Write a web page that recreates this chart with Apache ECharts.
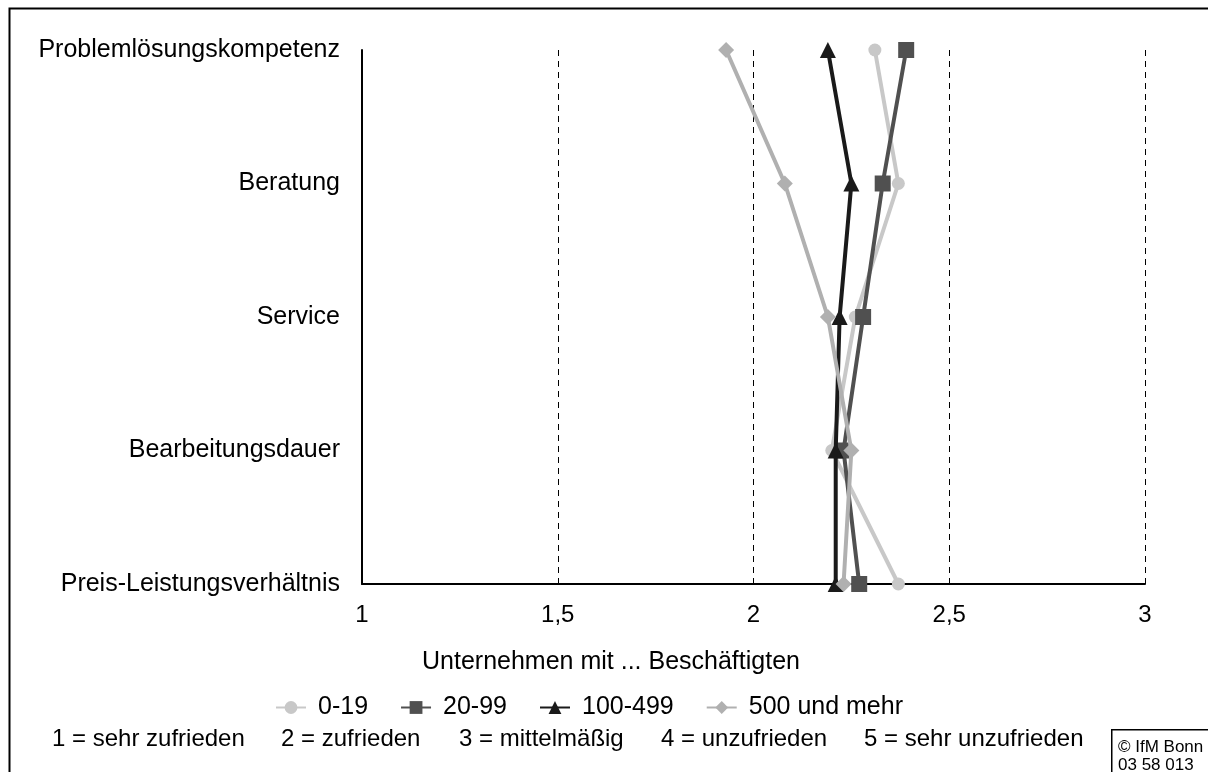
<!DOCTYPE html>
<html>
<head>
<meta charset="utf-8">
<script src="https://cdn.jsdelivr.net/npm/echarts@6/dist/echarts.min.js"></script>
<style>
  html, body { margin: 0; padding: 0; background: #fff; }
  #chart { width: 1208px; height: 772px; }
</style>
</head>
<body>
<div id="chart"></div>
<script>
// Kategorien (von oben nach unten)
const categories = ['Problemlösungskompetenz', 'Beratung', 'Service', 'Bearbeitungsdauer', 'Preis-Leistungsverhältnis'];
const seriesNames = ['0-19', '20-99', '100-499', '500 und mehr'];
const v0_19 = [2.31, 2.37, 2.26, 2.20, 2.37];
const v20_99 = [2.39, 2.33, 2.28, 2.23, 2.27];
const v100_499 = [2.19, 2.25, 2.22, 2.21, 2.21];
const v500 = [1.93, 2.08, 2.19, 2.25, 2.23];
const scaleNotes = ['1 = sehr zufrieden', '2 = zufrieden', '3 = mittelmäßig', '4 = unzufrieden', '5 = sehr unzufrieden'];

const font = 'Liberation Sans, Arial, sans-serif';
const styles = [
  { color: '#c8c8c8', symbol: 'circle', size: 13 },
  { color: '#505050', symbol: 'rect', size: 16 },
  { color: '#1a1a1a', symbol: 'triangle', size: 16 },
  { color: '#b0b0b0', symbol: 'diamond', size: 16 }
];
const allValues = [v0_19, v20_99, v100_499, v500];
// x-Startpositionen der Skalenerklärung
const notePos = [52, 281, 459, 661, 864];

const chart = echarts.init(document.getElementById('chart'));

const option = {
  animation: false,
  backgroundColor: '#fff',
  textStyle: { fontFamily: font },
  grid: { left: 362, right: 63, top: 50, bottom: 188, containLabel: false },
  xAxis: {
    type: 'value',
    min: 1, max: 3, interval: 0.5,
    axisLine: { show: true, lineStyle: { color: '#000', width: 2 } },
    axisTick: { show: false },
    splitLine: { show: true, lineStyle: { color: '#000', type: [6, 5], width: 1 } },
    axisLabel: {
      color: '#000', fontSize: 24, fontFamily: font, margin: 19,
      formatter: v => String(v).replace('.', ',')
    }
  },
  yAxis: {
    type: 'category',
    inverse: true,
    boundaryGap: false,
    data: categories,
    axisLine: { show: true, lineStyle: { color: '#000', width: 2 } },
    axisTick: { show: false },
    splitLine: { show: false },
    axisLabel: { color: '#000', fontSize: 25, fontFamily: font, margin: 22, padding: [8, 0, 0, 0] }
  },
  legend: {
    data: seriesNames,
    left: 270, top: 690,
    itemWidth: 30, itemHeight: 16,
    itemGap: 32,
    textStyle: { color: '#000', fontSize: 25, fontFamily: font, padding: [0, 0, 0, 7] }
  },
  series: allValues.map((vals, i) => ({
    name: seriesNames[i],
    type: 'line',
    data: vals,
    symbol: styles[i].symbol,
    symbolSize: styles[i].size,
    itemStyle: { color: styles[i].color },
    lineStyle: { color: styles[i].color, width: 4 },
    z: 2 + i
  })),
  graphic: [
    {
      type: 'rect', left: 7, top: 6, silent: true,
      shape: { width: 1210, height: 780 },
      style: { fill: 'none', stroke: '#000', lineWidth: 2 }
    },
    {
      type: 'text', left: 422, top: 650,
      style: { text: 'Unternehmen mit ... Beschäftigten', fill: '#000', font: '25px ' + font }
    },
    ...scaleNotes.map((t, i) => ({
      type: 'text', left: notePos[i], top: 727,
      style: { text: t, fill: '#000', font: '24px ' + font }
    })),
    {
      type: 'rect', left: 1111, top: 729, silent: true,
      shape: { width: 110, height: 60 },
      style: { fill: '#fff', stroke: '#000', lineWidth: 1.5 }
    },
    {
      type: 'text', left: 1118, top: 738,
      style: { text: '© IfM Bonn\n03 58 013', fill: '#000', font: '17px ' + font, lineHeight: 18 }
    }
  ]
};

chart.setOption(option);
</script>
</body>
</html>
